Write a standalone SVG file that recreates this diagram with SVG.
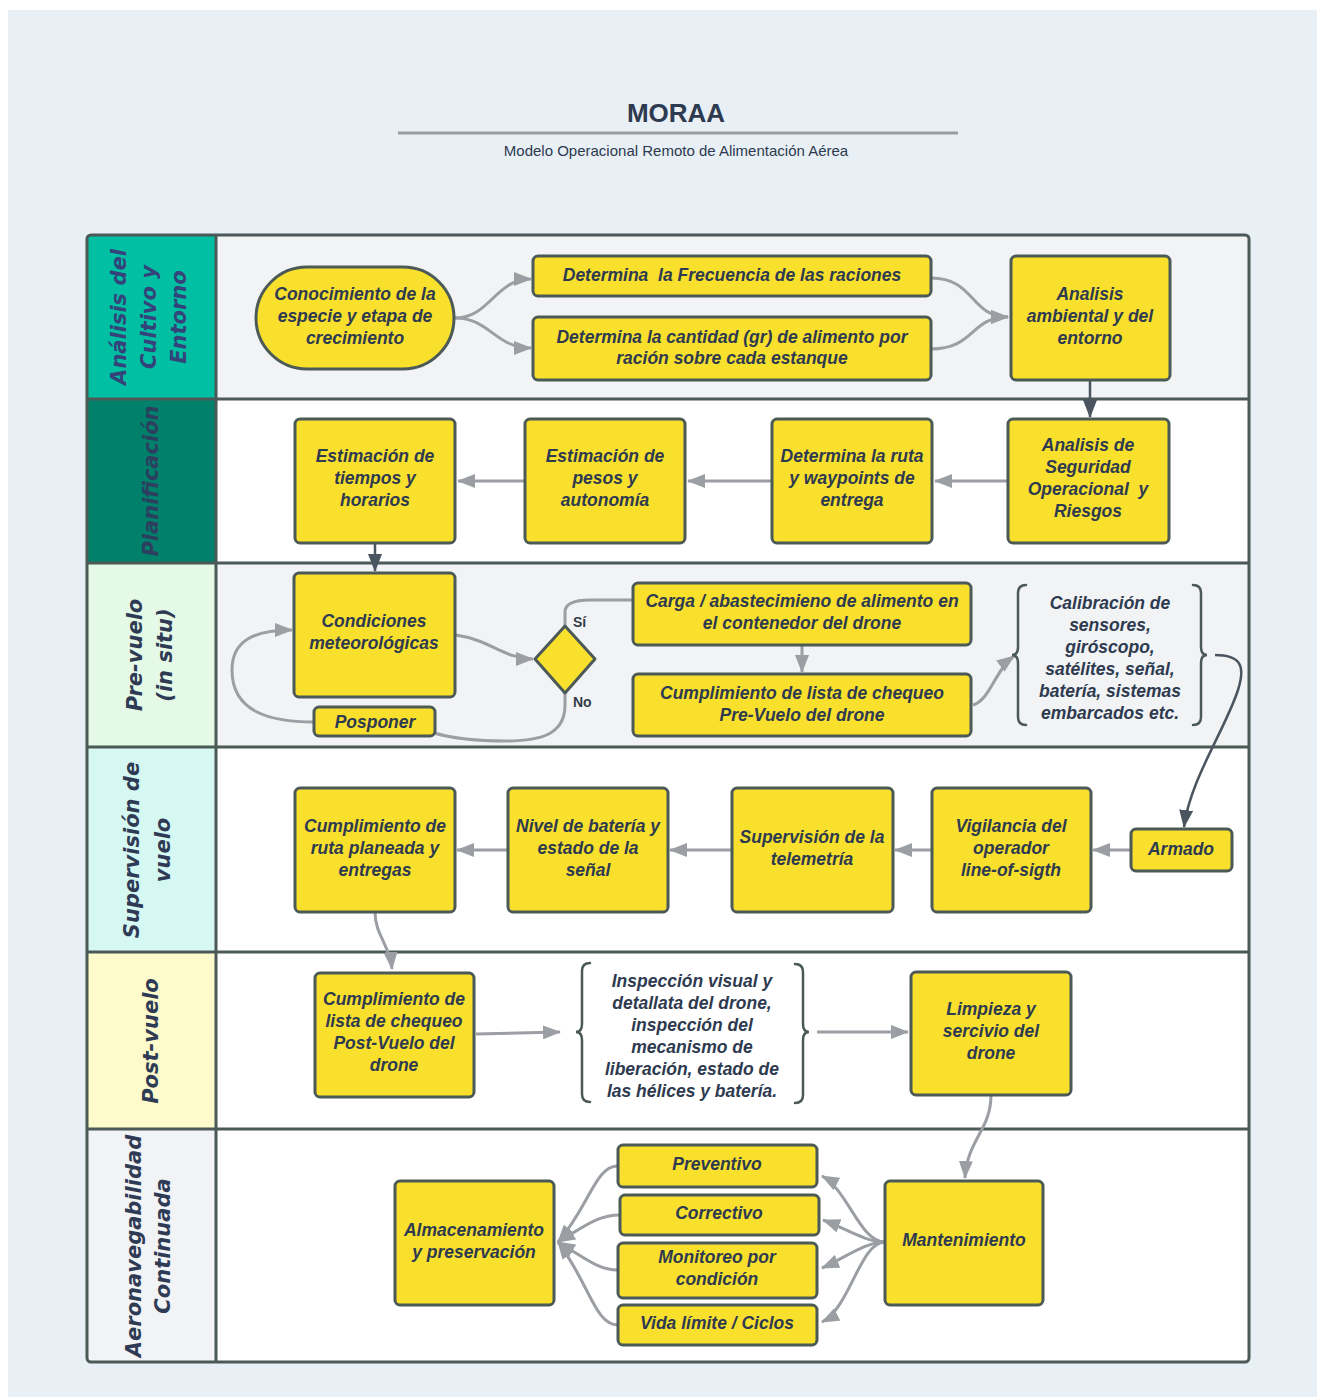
<svg xmlns="http://www.w3.org/2000/svg" width="1317" height="1397" viewBox="0 0 1317 1397">
<style>
.node{fill:#f9e02d;stroke:#4b5957;stroke-width:3}
.t{font-family:"Liberation Sans",Arial,sans-serif;font-weight:bold;font-style:italic;font-size:17.5px;fill:#2e3a4f;text-anchor:middle}
.c{fill:none;stroke:#9b9ea3;stroke-width:3}
.cd{fill:none;stroke:#4a5560;stroke-width:2.5}
.br{fill:none;stroke:#4b5957;stroke-width:2.5;stroke-linecap:round}
.lh{font-family:"DejaVu Sans",sans-serif;font-weight:bold;font-style:oblique;font-size:21px;fill:#2f3b54;text-anchor:middle}
.lab{font-family:"Liberation Sans",Arial,sans-serif;font-weight:bold;font-size:14px;fill:#333c48}
.sep{stroke:#4b5957;stroke-width:3}
</style>
<defs>
<marker id="ag" markerUnits="userSpaceOnUse" markerWidth="18" markerHeight="14" viewBox="0 0 18 14" refX="17" refY="7" orient="auto"><path d="M0,0 L18,7 L0,14 z" fill="#9b9ea3"/></marker>
<marker id="ad" markerUnits="userSpaceOnUse" markerWidth="18" markerHeight="14" viewBox="0 0 18 14" refX="17" refY="7" orient="auto"><path d="M0,0 L18,7 L0,14 z" fill="#4a5560"/></marker>
</defs>
<rect x="0" y="0" width="1317" height="1397" fill="#ffffff"/>
<rect x="8" y="10" width="1309" height="1387" fill="#e8eff5"/>

<g id="title">
<text x="676" y="122" style="font-family:'Liberation Sans',Arial,sans-serif;font-weight:bold;font-size:26px;fill:#2d3a4f" text-anchor="middle">MORAA</text>
<line x1="398" y1="133" x2="958" y2="133" stroke="#9a9ea2" stroke-width="3"/>
<text x="676" y="156" style="font-family:'Liberation Sans',Arial,sans-serif;font-size:15px;fill:#2d3a4f" text-anchor="middle">Modelo Operacional Remoto de Alimentación Aérea</text>
</g>

<g id="lanes">
<rect x="87" y="235" width="1162" height="164" fill="#f1f3f5"/>
<rect x="87" y="399" width="1162" height="164" fill="#ffffff"/>
<rect x="87" y="563" width="1162" height="184" fill="#f1f3f5"/>
<rect x="87" y="747" width="1162" height="205" fill="#ffffff"/>
<rect x="87" y="952" width="1162" height="177" fill="#ffffff"/>
<rect x="87" y="1129" width="1162" height="233" fill="#ffffff"/>
<rect x="87" y="235" width="129" height="164" fill="#00bfa2"/>
<rect x="87" y="399" width="129" height="164" fill="#01806c"/>
<rect x="87" y="563" width="129" height="184" fill="#e4fae7"/>
<rect x="87" y="747" width="129" height="205" fill="#d6f8f2"/>
<rect x="87" y="952" width="129" height="177" fill="#fdfbcc"/>
<rect x="87" y="1129" width="129" height="233" fill="#f1f3f5"/>
<line class="sep" x1="87" y1="399" x2="1249" y2="399"/>
<line class="sep" x1="87" y1="563" x2="1249" y2="563"/>
<line class="sep" x1="87" y1="747" x2="1249" y2="747"/>
<line class="sep" x1="87" y1="952" x2="1249" y2="952"/>
<line class="sep" x1="87" y1="1129" x2="1249" y2="1129"/>
<line class="sep" x1="216" y1="235" x2="216" y2="1362"/>
<rect x="87" y="235" width="1162" height="1127" rx="4" fill="none" stroke="#4b5957" stroke-width="3"/>
<text class="lh" transform="translate(151,317) rotate(-90)" style="fill:#34437a"><tspan x="0" y="-25">Análisis del</tspan><tspan x="0" y="5">Cultivo y</tspan><tspan x="0" y="35">Entorno</tspan></text>
<text class="lh" transform="translate(151,481) rotate(-90)" style="fill:#2c3f5e"><tspan x="0" y="7">Planificación</tspan></text>
<text class="lh" transform="translate(151,655) rotate(-90)"><tspan x="0" y="-9">Pre-vuelo</tspan><tspan x="0" y="21">(in situ)</tspan></text>
<text class="lh" transform="translate(151,850) rotate(-90)"><tspan x="0" y="-12">Supervisión de</tspan><tspan x="0" y="19">vuelo</tspan></text>
<text class="lh" transform="translate(151,1041) rotate(-90)"><tspan x="0" y="7">Post-vuelo</tspan></text>
<text class="lh" transform="translate(151,1246) rotate(-90)"><tspan x="0" y="-10">Aeronavegabilidad</tspan><tspan x="0" y="19">Continuada</tspan></text>
</g>

<g id="connectors">
<path class="c" d="M455,318 C490,318 495,279 531,279" marker-end="url(#ag)"/>
<path class="c" d="M455,318 C490,318 495,348 531,348" marker-end="url(#ag)"/>
<path class="c" d="M931,278 C975,278 970,317 1008,317" marker-end="url(#ag)"/>
<path class="c" d="M931,349 C975,349 970,317 1008,317" marker-end="url(#ag)"/>
<path class="cd" d="M1090,380 L1090,417" marker-end="url(#ad)"/>
<path class="c" d="M1008,481 L935,481" marker-end="url(#ag)"/>
<path class="c" d="M772,481 L688,481" marker-end="url(#ag)"/>
<path class="c" d="M525,481 L458,481" marker-end="url(#ag)"/>
<path class="cd" d="M375,543 L375,571" marker-end="url(#ad)"/>
<path class="c" d="M456,635 C490,640 505,659 533,659" marker-end="url(#ag)"/>
<path class="c" d="M565,626 L565,612 C565,603 575,600 590,600 L633,600"/>
<path class="c" d="M565,693 L565,705 C565,735 540,741 505,741 C470,741 448,737 434,733"/>
<path class="c" d="M314,722 C270,722 232,712 232,670 C232,640 255,630 292,630" marker-end="url(#ag)"/>
<path class="c" d="M802,645 L802,672" marker-end="url(#ag)"/>
<path class="c" d="M973,705 C990,700 995,670 1014,656" marker-end="url(#ag)"/>
<path class="cd" d="M1215,655 C1240,655 1246,665 1238,690 C1225,730 1190,780 1184,827" marker-end="url(#ad)"/>
<path class="c" d="M1131,850 L1093,850" marker-end="url(#ag)"/>
<path class="c" d="M932,850 L895,850" marker-end="url(#ag)"/>
<path class="c" d="M732,850 L670,850" marker-end="url(#ag)"/>
<path class="c" d="M508,850 L457,850" marker-end="url(#ag)"/>
<path class="c" d="M375,912 C375,935 390,945 392,969" marker-end="url(#ag)"/>
<path class="c" d="M476,1034 L560,1032" marker-end="url(#ag)"/>
<path class="c" d="M817,1032 L908,1032" marker-end="url(#ag)"/>
<path class="c" d="M991,1095 C991,1130 967,1140 965,1178" marker-end="url(#ag)"/>
<path class="c" d="M885,1242 C860,1242 848,1190 822,1176" marker-end="url(#ag)"/>
<path class="c" d="M885,1242 C865,1242 845,1228 823,1220" marker-end="url(#ag)"/>
<path class="c" d="M885,1242 C865,1242 845,1258 822,1268" marker-end="url(#ag)"/>
<path class="c" d="M885,1242 C860,1242 850,1308 822,1322" marker-end="url(#ag)"/>
<path class="c" d="M618,1166 C595,1166 590,1205 558,1242" marker-end="url(#ag)"/>
<path class="c" d="M620,1215 C598,1215 585,1226 558,1242" marker-end="url(#ag)"/>
<path class="c" d="M618,1270 C598,1270 585,1258 558,1242" marker-end="url(#ag)"/>
<path class="c" d="M618,1325 C595,1325 590,1285 558,1242" marker-end="url(#ag)"/>
</g>

<g id="n-conocimiento"><rect class="node" x="256" y="267" width="198" height="102" rx="51"/><text class="t"><tspan x="355" y="300">Conocimiento de la</tspan><tspan x="355" y="322">especie y etapa de</tspan><tspan x="355" y="344">crecimiento</tspan></text></g>
<g id="n-frecuencia"><rect class="node" x="533" y="256" width="398" height="40" rx="5"/><text class="t" xml:space="preserve" x="732" y="281">Determina  la Frecuencia de las raciones</text></g>
<g id="n-cantidad"><rect class="node" x="533" y="317" width="398" height="63" rx="5"/><text class="t"><tspan x="732" y="343">Determina la cantidad (gr) de alimento por</tspan><tspan x="732" y="364">ración sobre cada estanque</tspan></text></g>
<g id="n-ambiental"><rect class="node" x="1011" y="256" width="159" height="124" rx="5"/><text class="t"><tspan x="1090" y="300">Analisis</tspan><tspan x="1090" y="322">ambiental y del</tspan><tspan x="1090" y="344">entorno</tspan></text></g>

<g id="n-tiempos"><rect class="node" x="295" y="419" width="160" height="124" rx="5"/><text class="t"><tspan x="375" y="462">Estimación de</tspan><tspan x="375" y="484">tiempos y</tspan><tspan x="375" y="506">horarios</tspan></text></g>
<g id="n-pesos"><rect class="node" x="525" y="419" width="160" height="124" rx="5"/><text class="t"><tspan x="605" y="462">Estimación de</tspan><tspan x="605" y="484">pesos y</tspan><tspan x="605" y="506">autonomía</tspan></text></g>
<g id="n-ruta"><rect class="node" x="772" y="419" width="160" height="124" rx="5"/><text class="t"><tspan x="852" y="462">Determina la ruta</tspan><tspan x="852" y="484">y waypoints de</tspan><tspan x="852" y="506">entrega</tspan></text></g>
<g id="n-seguridad"><rect class="node" x="1008" y="419" width="161" height="124" rx="5"/><text class="t" xml:space="preserve"><tspan x="1088" y="451">Analisis de</tspan><tspan x="1088" y="473">Seguridad</tspan><tspan x="1088" y="495">Operacional  y</tspan><tspan x="1088" y="517">Riesgos</tspan></text></g>

<g id="n-condiciones"><rect class="node" x="294" y="573" width="161" height="124" rx="5"/><text class="t"><tspan x="374" y="627">Condiciones</tspan><tspan x="374" y="649">meteorológicas</tspan></text></g>
<g id="n-decision"><polygon class="node" points="565,626 595,659 565,693 535,659" stroke-linejoin="round"/><text class="lab" x="573" y="627">Sí</text><text class="lab" x="573" y="707">No</text></g>
<g id="n-posponer"><rect class="node" x="314" y="707" width="121" height="29" rx="5"/><text class="t" x="375" y="728">Posponer</text></g>
<g id="n-carga"><rect class="node" x="633" y="583" width="338" height="62" rx="5"/><text class="t"><tspan x="802" y="607">Carga / abastecimieno de alimento en</tspan><tspan x="802" y="629">el contenedor del drone</tspan></text></g>
<g id="n-prevuelo"><rect class="node" x="633" y="674" width="338" height="62" rx="5"/><text class="t"><tspan x="802" y="699">Cumplimiento de lista de chequeo</tspan><tspan x="802" y="721">Pre-Vuelo del drone</tspan></text></g>
<g id="n-calibracion"><path class="br" d="M1026,585 Q1018,585 1018,593 L1018,647 Q1018,655 1012,655 Q1018,655 1018,663 L1018,717 Q1018,725 1026,725"/><path class="br" d="M1193,585 Q1201,585 1201,593 L1201,647 Q1201,655 1207,655 Q1201,655 1201,663 L1201,717 Q1201,725 1193,725"/><text class="t"><tspan x="1110" y="609">Calibración de</tspan><tspan x="1110" y="631">sensores,</tspan><tspan x="1110" y="653">giróscopo,</tspan><tspan x="1110" y="675">satélites, señal,</tspan><tspan x="1110" y="697">batería, sistemas</tspan><tspan x="1110" y="719">embarcados etc.</tspan></text></g>

<g id="n-rutaplaneada"><rect class="node" x="295" y="788" width="160" height="124" rx="5"/><text class="t"><tspan x="375" y="832">Cumplimiento de</tspan><tspan x="375" y="854">ruta planeada y</tspan><tspan x="375" y="876">entregas</tspan></text></g>
<g id="n-bateria"><rect class="node" x="508" y="788" width="160" height="124" rx="5"/><text class="t"><tspan x="588" y="832">Nivel de batería y</tspan><tspan x="588" y="854">estado de la</tspan><tspan x="588" y="876">señal</tspan></text></g>
<g id="n-telemetria"><rect class="node" x="732" y="788" width="161" height="124" rx="5"/><text class="t"><tspan x="812" y="843">Supervisión de la</tspan><tspan x="812" y="865">telemetría</tspan></text></g>
<g id="n-vigilancia"><rect class="node" x="932" y="788" width="159" height="124" rx="5"/><text class="t"><tspan x="1011" y="832">Vigilancia del</tspan><tspan x="1011" y="854">operador</tspan><tspan x="1011" y="876">line-of-sigth</tspan></text></g>
<g id="n-armado"><rect class="node" x="1131" y="829" width="101" height="42" rx="5"/><text class="t" x="1181" y="855">Armado</text></g>

<g id="n-postvuelo"><rect class="node" x="315" y="973" width="159" height="124" rx="5"/><text class="t"><tspan x="394" y="1005">Cumplimiento de</tspan><tspan x="394" y="1027">lista de chequeo</tspan><tspan x="394" y="1049">Post-Vuelo del</tspan><tspan x="394" y="1071">drone</tspan></text></g>
<g id="n-inspeccion"><path class="br" d="M590,963 Q582,963 582,971 L582,1024 Q582,1032 576,1032 Q582,1032 582,1040 L582,1094 Q582,1102 590,1102"/><path class="br" d="M795,964 Q803,964 803,972 L803,1024 Q803,1032 809,1032 Q803,1032 803,1040 L803,1095 Q803,1103 795,1103"/><text class="t"><tspan x="692" y="987">Inspección visual y</tspan><tspan x="692" y="1009">detallata del drone,</tspan><tspan x="692" y="1031">inspección del</tspan><tspan x="692" y="1053">mecanismo de</tspan><tspan x="692" y="1075">liberación, estado de</tspan><tspan x="692" y="1097">las hélices y batería.</tspan></text></g>
<g id="n-limpieza"><rect class="node" x="911" y="972" width="160" height="123" rx="5"/><text class="t"><tspan x="991" y="1015">Limpieza y</tspan><tspan x="991" y="1037">sercivio del</tspan><tspan x="991" y="1059">drone</tspan></text></g>

<g id="n-almacenamiento"><rect class="node" x="395" y="1181" width="159" height="124" rx="5"/><text class="t"><tspan x="474" y="1236">Almacenamiento</tspan><tspan x="474" y="1258">y preservación</tspan></text></g>
<g id="n-mantenimiento"><rect class="node" x="885" y="1181" width="158" height="124" rx="5"/><text class="t" x="964" y="1246">Mantenimiento</text></g>
<g id="n-preventivo"><rect class="node" x="618" y="1145" width="199" height="42" rx="5"/><text class="t" x="717" y="1170">Preventivo</text></g>
<g id="n-correctivo"><rect class="node" x="620" y="1195" width="199" height="40" rx="5"/><text class="t" x="719" y="1219">Correctivo</text></g>
<g id="n-monitoreo"><rect class="node" x="618" y="1243" width="199" height="55" rx="5"/><text class="t"><tspan x="717" y="1263">Monitoreo por</tspan><tspan x="717" y="1285">condición</tspan></text></g>
<g id="n-vida"><rect class="node" x="618" y="1305" width="199" height="40" rx="5"/><text class="t" x="717" y="1329">Vida límite / Ciclos</text></g>
</svg>
